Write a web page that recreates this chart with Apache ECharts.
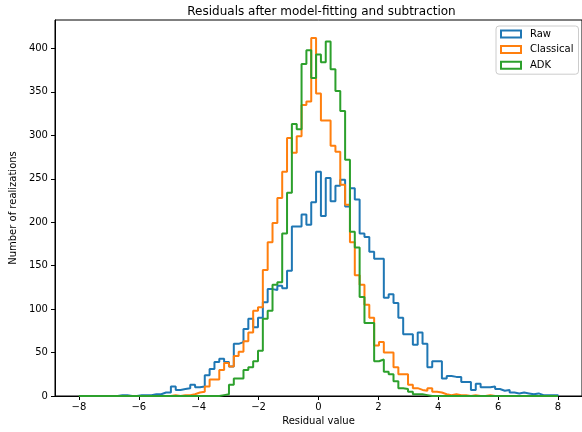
<!DOCTYPE html>
<html>
<head>
<meta charset="utf-8">
<script src="https://cdn.jsdelivr.net/npm/echarts@6/dist/echarts.min.js"></script>
<style>html,body{margin:0;padding:0;background:#fff}#c{width:582px;height:432px}</style>
</head>
<body>
<div id="c"></div>
<script>
// Histogram binning: 99 bins between -8 and 8
const binMin = -8;
const binMax = 8;
const nBins = 99;

const seriesNames = ['Raw', 'Classical', 'ADK'];

const raw = [
  0,0,0,0,0,0,0,0,1,1,
  0,0,1,1,1,2,2,4,4,11,
  7,8,9,13,10,11,24,31,39,43,
  39,34,60,62,77,89,79,90,108,123,
  122,127,124,144,195,195,209,197,223,258,
  207,251,224,242,249,218,239,226,187,183,
  166,158,158,113,117,107,90,71,71,59,
  73,60,33,40,40,20,23,22,22,16,
  16,7,14,10,10,11,8,6,7,4,
  3,4,3,2,3,1,1,1,1
];

const classical = [
  0,0,0,0,0,0,0,0,0,0,
  0,0,0,0,0,0,0,0,0,1,
  0,1,1,2,4,5,11,19,19,30,
  38,34,46,51,63,73,98,102,145,177,
  199,228,258,297,280,299,335,339,412,348,
  317,317,288,281,243,220,177,139,128,105,
  90,58,62,50,50,33,25,25,13,9,
  7,6,9,5,4,2,1,2,1,1,
  0,1,0,0,1,0,0,0,0,0,
  0,0,0,0,0,0,0,0,0
];

const adk = [
  0,0,0,0,0,0,0,0,0,0,
  0,0,0,0,0,0,0,0,0,0,
  0,0,0,0,0,0,0,0,0,1,
  2,13,20,20,30,33,40,52,89,98,
  128,131,187,234,313,307,382,398,366,393,
  384,408,376,351,328,272,189,171,114,84,
  84,40,42,28,25,17,9,8,5,2,
  2,1,0,0,0,0,0,0,0,0,
  0,0,0,0,0,0,0,0,0,0,
  0,0,0,0,0,0,0,0,0
];

const xTicks = [-8, -6, -4, -2, 0, 2, 4, 6, 8];
const yTicks = [0, 50, 100, 150, 200, 250, 300, 350, 400];

const colors = ['#1f77b4', '#ff7f0e', '#2ca02c'];

function stepData(counts) {
  const w = (binMax - binMin) / nBins;
  const pts = [[binMin, 0]];
  counts.forEach((c, i) => pts.push([binMin + i * w, c]));
  pts.push([binMax, counts[counts.length - 1]]);
  pts.push([binMax, 0]);
  return pts;
}

const font = 'DejaVu Sans';
const minus = v => String(v).replace('-', '\u2212');

const chart = echarts.init(document.getElementById('c'), null, {renderer: 'canvas'});
chart.setOption({
  animation: false,
  backgroundColor: '#fff',
  title: {
    text: 'Residuals after model-fitting and subtraction',
    left: 316.5,
    textAlign: 'center',
    top: 1,
    textStyle: {fontFamily: font, fontSize: 12, fontWeight: 'normal', color: '#000'}
  },
  legend: {
    orient: 'vertical',
    left: 496,
    top: 26,
    padding: [2, 5, 3, 4],
    itemWidth: 20,
    itemHeight: 7,
    itemGap: 3.6,
    borderColor: '#cccccc',
    borderWidth: 1,
    borderRadius: 3,
    backgroundColor: 'rgba(255,255,255,0.8)',
    textStyle: {fontFamily: font, fontSize: 10, color: '#000', lineHeight: 12, padding: [0, 0, 0, 4]},
    data: seriesNames.map((n, i) => ({
      name: n,
      icon: 'rect',
      itemStyle: {color: 'rgba(255,255,255,0)', borderColor: colors[i], borderWidth: 2}
    }))
  },
  grid: {
    left: 50, top: 20, width: 533, height: 376,
    show: true, borderColor: '#000', borderWidth: 1, backgroundColor: 'transparent'
  },
  xAxis: {
    type: 'value',
    min: -8.8, max: 8.8,
    name: 'Residual value',
    nameLocation: 'middle',
    nameGap: 19,
    nameTextStyle: {fontFamily: font, fontSize: 10, color: '#000'},
    axisLine: {show: true, onZero: false, lineStyle: {color: '#000', width: 1}},
    axisTick: {show: true, length: 4, lineStyle: {color: '#000'}, customValues: xTicks},
    axisLabel: {show: true, margin: 6, fontFamily: font, fontSize: 10, color: '#000', customValues: xTicks, formatter: minus},
    splitLine: {show: false}
  },
  yAxis: {
    type: 'value',
    min: 0, max: 432.7,
    name: 'Number of realizations',
    nameLocation: 'middle',
    nameGap: 31,
    nameTextStyle: {fontFamily: font, fontSize: 10, color: '#000'},
    axisLine: {show: true, onZero: false, lineStyle: {color: '#000', width: 1}},
    axisTick: {show: true, length: 4, lineStyle: {color: '#000'}, customValues: yTicks},
    axisLabel: {show: true, margin: 7, fontFamily: font, fontSize: 10, color: '#000', customValues: yTicks},
    splitLine: {show: false}
  },
  series: [raw, classical, adk].map((d, i) => ({
    name: seriesNames[i],
    type: 'line',
    step: 'end',
    data: stepData(d),
    symbol: 'none',
    color: colors[i],
    itemStyle: {color: colors[i]},
    lineStyle: {color: colors[i], width: 2},
    z: 2 + i
  }))
});
</script>
</body>
</html>
